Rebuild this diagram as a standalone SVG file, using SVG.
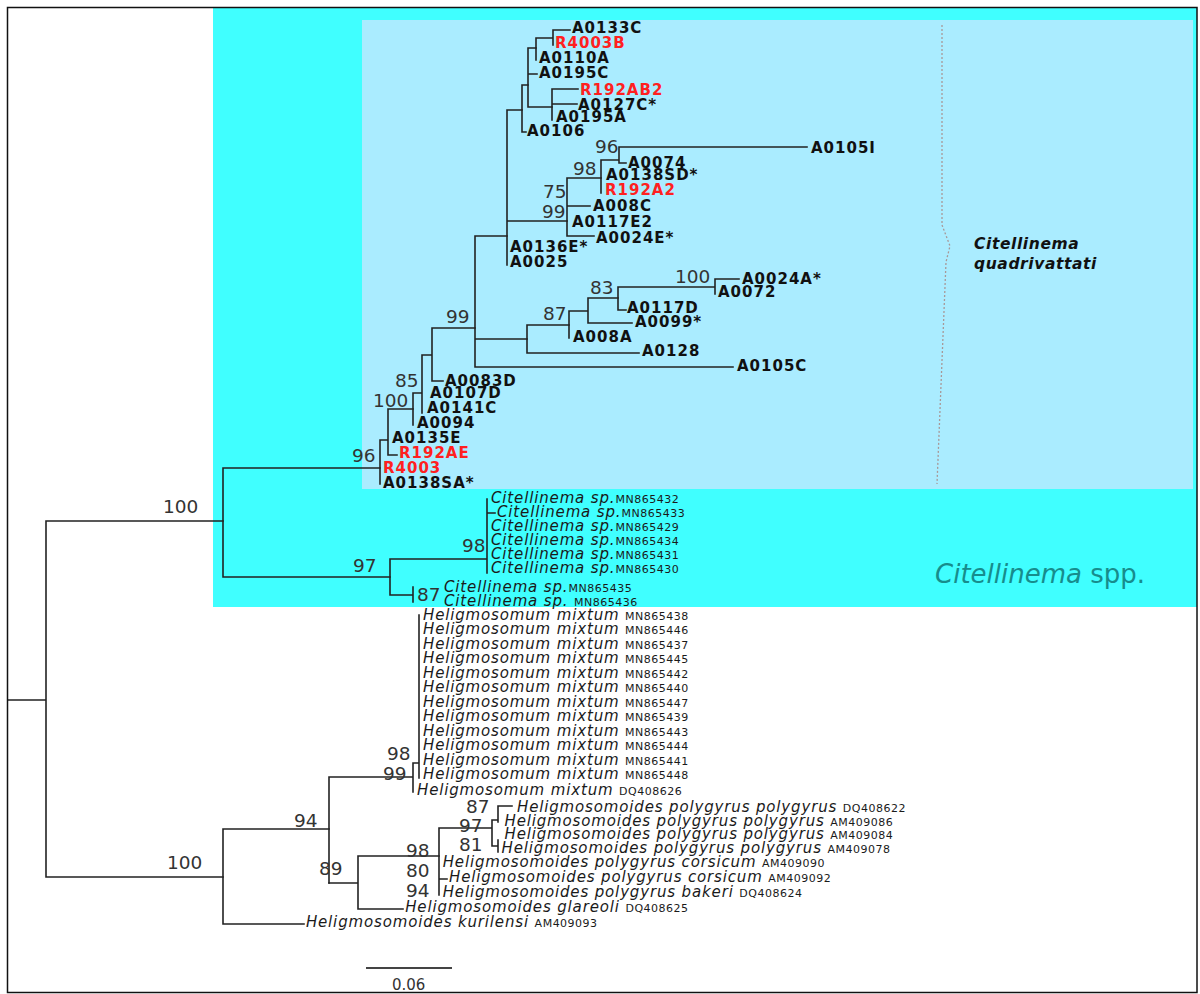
<svg xmlns="http://www.w3.org/2000/svg" width="1200" height="994" viewBox="0 0 1200 994">
<style>
.br{stroke:#222;stroke-width:1.6;fill:none;stroke-linecap:square}
.lb{font-family:"DejaVu Sans",sans-serif;font-weight:bold;font-size:15px;letter-spacing:1px;fill:#111}
.red{fill:#ff2020}
.sv{font-family:"DejaVu Sans",sans-serif;font-size:18.5px;fill:#333}
.it{font-family:"DejaVu Sans",sans-serif;font-style:italic;font-size:15px;letter-spacing:0.85px;fill:#1a1a1a}
.acc{font-style:normal;font-size:11px;letter-spacing:0.5px}
</style>
<rect x="0" y="0" width="1200" height="994" fill="#fff"/>
<g id="regions">
<rect x="213" y="8" width="984" height="599" fill="#40ffff"/>
<rect x="362" y="20" width="831" height="469" fill="#aaecff"/>
<path d="M942,25 L942,225 L950,246 L946,262 L937,484" fill="none" stroke="#a89898" stroke-width="1.3" stroke-dasharray="2 2"/>
<text x="974" y="249" font-family="DejaVu Sans, sans-serif" font-weight="bold" font-style="italic" font-size="15.5" letter-spacing="0.6" fill="#111">Citellinema</text>
<text x="974" y="269" font-family="DejaVu Sans, sans-serif" font-weight="bold" font-style="italic" font-size="15.5" letter-spacing="0.6" fill="#111">quadrivattati</text>
<text x="935" y="583" font-family="DejaVu Sans, sans-serif" font-size="26" fill="#178c8c"><tspan font-style="italic">Citellinema</tspan> spp.</text>
</g>
<g id="connectors" class="br">
<path d="M8,700H46M46,521V877M46,521H223M46,877H223"/>
<path d="M223,468V577M223,468H380M223,577H390"/>
<path d="M380,440V484M380,440H388M388,409V455M388,409H413M388,455H397"/>
<path d="M413,393V425M413,393H422M422,355V413M422,355H432M432,328V381M432,328H475M432,381H443"/>
<path d="M475,236V367M475,236H507M475,339H527M475,367H733"/>
<path d="M527,325V353M527,325H569M527,353H639"/>
<path d="M569,311V338M569,311H588M588,298V323M588,298H618M588,323H632"/>
<path d="M618,287V310M618,287H715M618,310H626M715,279V294M715,279H739"/>
<path d="M507,110V265M507,110H522M507,221H567"/>
<path d="M567,178V236M567,178H601M567,206H590M567,236H594"/>
<path d="M601,160V193M601,160H619M619,147V163M619,147H807M619,163H626"/>
<path d="M522,85V132M522,85H528M522,132H526"/>
<path d="M528,48V107M528,48H536M528,74H537M528,107H552"/>
<path d="M536,38V60M536,38H553M553,30V45M553,30H570"/>
<path d="M552,89V120M552,89H578M552,104H577"/>
<path d="M390,559V595M390,559H487M487,499V573M487,513H495M390,595H413M413,587V602"/>
<path d="M223,829H329M223,829V924M223,924H304"/>
<path d="M329,777V883M329,777H413M413,763V792M413,763H419M419,615V778"/>
<path d="M329,883H358M358,856V909M358,909H403M358,856H439"/>
<path d="M439,828V895M439,879H447M439,828H492M492,820V846M492,820H498M498,806V822M498,806H512M492,846H498M498,840V852"/>
<path d="M367,968H451" stroke="#444" stroke-width="2"/>
</g>
<g id="support-values" class="sv">
<text x="163" y="513">100</text>
<text x="167" y="869">100</text>
<text x="352" y="462">96</text>
<text x="353" y="572">97</text>
<text x="462" y="552">98</text>
<text x="417" y="601">87</text>
<text x="373" y="407">100</text>
<text x="395" y="387">85</text>
<text x="446" y="323">99</text>
<text x="543" y="320">87</text>
<text x="590" y="294">83</text>
<text x="675" y="283">100</text>
<text x="542" y="218">99</text>
<text x="543" y="198">75</text>
<text x="573" y="175">98</text>
<text x="595" y="153">96</text>
<text x="387" y="760">98</text>
<text x="383" y="780">99</text>
<text x="294" y="827">94</text>
<text x="319" y="875">89</text>
<text x="406" y="857">98</text>
<text x="406" y="877">80</text>
<text x="406" y="897">94</text>
<text x="466" y="813">87</text>
<text x="459" y="832">97</text>
<text x="459" y="851">81</text>
</g>
<g id="quadrivattati-leaves" class="lb">
<g id="n-A0133C"><text x="572" y="33">A0133C</text></g>
<g id="n-R4003B"><text x="555" y="48" class="red">R4003B</text></g>
<g id="n-A0110A"><text x="539" y="63">A0110A</text></g>
<g id="n-A0195C"><text x="539" y="78">A0195C</text></g>
<g id="n-R192AB2"><text x="580" y="95" class="red">R192AB2</text></g>
<g id="n-A0127C"><text x="578" y="110">A0127C*</text></g>
<g id="n-A0195A"><text x="556" y="122">A0195A</text></g>
<g id="n-A0106"><text x="527" y="136">A0106</text></g>
<g id="n-A0105I"><text x="811" y="153">A0105I</text></g>
<g id="n-A0074"><text x="628" y="168">A0074</text></g>
<g id="n-A0138SD"><text x="606" y="180">A0138SD*</text></g>
<g id="n-R192A2"><text x="605" y="195" class="red">R192A2</text></g>
<g id="n-A008C"><text x="593" y="211">A008C</text></g>
<g id="n-A0117E2"><text x="572" y="227">A0117E2</text></g>
<g id="n-A0024E"><text x="596" y="243">A0024E*</text></g>
<g id="n-A0136E"><text x="510" y="252">A0136E*</text></g>
<g id="n-A0025"><text x="510" y="267">A0025</text></g>
<g id="n-A0024A"><text x="742" y="284">A0024A*</text></g>
<g id="n-A0072"><text x="718" y="297">A0072</text></g>
<g id="n-A0117D"><text x="627" y="313">A0117D</text></g>
<g id="n-A0099"><text x="635" y="327">A0099*</text></g>
<g id="n-A008A"><text x="573" y="342">A008A</text></g>
<g id="n-A0128"><text x="642" y="356">A0128</text></g>
<g id="n-A0105C"><text x="737" y="371">A0105C</text></g>
<g id="n-A0083D"><text x="445" y="386">A0083D</text></g>
<g id="n-A0107D"><text x="430" y="398">A0107D</text></g>
<g id="n-A0141C"><text x="427" y="413">A0141C</text></g>
<g id="n-A0094"><text x="417" y="428">A0094</text></g>
<g id="n-A0135E"><text x="392" y="443">A0135E</text></g>
<g id="n-R192AE"><text x="399" y="458" class="red">R192AE</text></g>
<g id="n-R4003"><text x="383" y="473" class="red">R4003</text></g>
<g id="n-A0138SA"><text x="383" y="488">A0138SA*</text></g>
</g>
<g id="citellinema-sp-leaves" class="it">
<g id="n-MN865432"><text x="491" y="503">Citellinema sp.<tspan class="acc">MN865432</tspan></text></g>
<g id="n-MN865433"><text x="497" y="517">Citellinema sp.<tspan class="acc">MN865433</tspan></text></g>
<g id="n-MN865429"><text x="491" y="531">Citellinema sp.<tspan class="acc">MN865429</tspan></text></g>
<g id="n-MN865434"><text x="491" y="545">Citellinema sp.<tspan class="acc">MN865434</tspan></text></g>
<g id="n-MN865431"><text x="491" y="559">Citellinema sp.<tspan class="acc">MN865431</tspan></text></g>
<g id="n-MN865430"><text x="491" y="573">Citellinema sp.<tspan class="acc">MN865430</tspan></text></g>
<g id="n-MN865435"><text x="444" y="592">Citellinema sp.<tspan class="acc">MN865435</tspan></text></g>
<g id="n-MN865436"><text x="444" y="606">Citellinema sp. <tspan class="acc">MN865436</tspan></text></g>
</g>
<g id="heligmosomum-leaves" class="it">
<g id="n-MN865438"><text x="423" y="619.5">Heligmosomum mixtum <tspan class="acc">MN865438</tspan></text></g>
<g id="n-MN865446"><text x="423" y="634">Heligmosomum mixtum <tspan class="acc">MN865446</tspan></text></g>
<g id="n-MN865437"><text x="423" y="648.5">Heligmosomum mixtum <tspan class="acc">MN865437</tspan></text></g>
<g id="n-MN865445"><text x="423" y="663">Heligmosomum mixtum <tspan class="acc">MN865445</tspan></text></g>
<g id="n-MN865442"><text x="423" y="677.5">Heligmosomum mixtum <tspan class="acc">MN865442</tspan></text></g>
<g id="n-MN865440"><text x="423" y="692">Heligmosomum mixtum <tspan class="acc">MN865440</tspan></text></g>
<g id="n-MN865447"><text x="423" y="706.5">Heligmosomum mixtum <tspan class="acc">MN865447</tspan></text></g>
<g id="n-MN865439"><text x="423" y="721">Heligmosomum mixtum <tspan class="acc">MN865439</tspan></text></g>
<g id="n-MN865443"><text x="423" y="735.5">Heligmosomum mixtum <tspan class="acc">MN865443</tspan></text></g>
<g id="n-MN865444"><text x="423" y="750">Heligmosomum mixtum <tspan class="acc">MN865444</tspan></text></g>
<g id="n-MN865441"><text x="423" y="764.5">Heligmosomum mixtum <tspan class="acc">MN865441</tspan></text></g>
<g id="n-MN865448"><text x="423" y="779">Heligmosomum mixtum <tspan class="acc">MN865448</tspan></text></g>
<g id="n-DQ408626"><text x="417" y="795">Heligmosomum mixtum <tspan class="acc">DQ408626</tspan></text></g>
</g>
<g id="heligmosomoides-leaves" class="it">
<g id="n-DQ408622"><text x="517" y="811.7">Heligmosomoides polygyrus polygyrus <tspan class="acc">DQ408622</tspan></text></g>
<g id="n-AM409086"><text x="504.5" y="825.7">Heligmosomoides polygyrus polygyrus <tspan class="acc">AM409086</tspan></text></g>
<g id="n-AM409084"><text x="504.5" y="839.3">Heligmosomoides polygyrus polygyrus <tspan class="acc">AM409084</tspan></text></g>
<g id="n-AM409078"><text x="501.6" y="852.7">Heligmosomoides polygyrus polygyrus <tspan class="acc">AM409078</tspan></text></g>
<g id="n-AM409090"><text x="442.7" y="867.3">Heligmosomoides polygyrus corsicum <tspan class="acc">AM409090</tspan></text></g>
<g id="n-AM409092"><text x="449" y="881.7">Heligmosomoides polygyrus corsicum <tspan class="acc">AM409092</tspan></text></g>
<g id="n-DQ408624"><text x="442.7" y="896.7">Heligmosomoides polygyrus bakeri <tspan class="acc">DQ408624</tspan></text></g>
<g id="n-DQ408625"><text x="405.2" y="911.7">Heligmosomoides glareoli <tspan class="acc">DQ408625</tspan></text></g>
<g id="n-AM409093"><text x="305.9" y="927.3">Heligmosomoides kurilensi <tspan class="acc">AM409093</tspan></text></g>
</g>
<g id="scale">
<text x="392" y="990" font-family="DejaVu Sans, sans-serif" font-size="15" fill="#333">0.06</text>
</g>
<rect x="7.5" y="7.5" width="1189.5" height="985" fill="none" stroke="#111" stroke-width="1.5"/>
</svg>
